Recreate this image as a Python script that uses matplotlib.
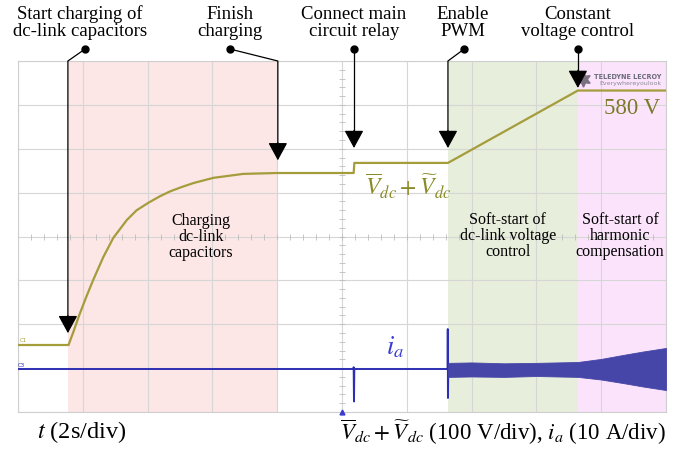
import numpy as np
import matplotlib
matplotlib.use("Agg")
import matplotlib.pyplot as plt

plt.rcParams["font.family"] = ["Liberation Serif", "DejaVu Serif"]
plt.rcParams["mathtext.fontset"] = "stix"

# ---- waveform data (time in s, dc-link voltage in V, phase current in A) ----
t_v = [0.0, 1.56, 1.71, 1.91, 2.12, 2.32, 2.63, 2.94, 3.36, 3.66, 4.02, 4.38,
       4.69, 5.05, 5.41, 5.72, 6.03, 6.44, 6.95, 7.47, 7.98, 10.36, 10.38,
       13.27, 17.28, 20.0]
v_dc = [0, 0, 30, 72, 112, 148, 200, 244, 285, 307, 324, 339,
        350, 360, 369, 375, 381, 385, 390, 391, 392, 392, 415,
        415, 580, 580]

t_i = [0.0, 10.355, 10.36, 10.37, 10.38, 13.26, 13.265, 13.27, 13.28]
i_a = [0.0, 0.0, 0.4, -7.4, 0.0, 0.0, 9.1, -6.6, 0.0]

# current ripple envelope once PWM is running
t_env = [13.28, 14.0, 15.0, 16.0, 17.28, 18.0, 18.67, 19.3, 20.0]
i_up = [1.4, 1.5, 1.3, 1.4, 1.6, 2.3, 3.2, 4.0, 4.8]
i_lo = [-1.8, -1.7, -1.8, -1.6, -1.8, -2.4, -3.2, -4.0, -4.8]

# operating phases (start, end) in s
ph_charge = (1.54, 8.02)
ph_dc_ctrl = (13.27, 17.28)
ph_harm = (17.28, 20.0)

# event annotations: text, text x, dot x, corner x, arrow-tip voltage
events = [
    ("Start charging of\ndc-link capacitors", 1.91, 2.07, 1.54, 27),
    ("Finish\ncharging", 6.54, 6.54, 8.02, 421),
    ("Connect main\ncircuit relay", 10.37, 10.37, 10.37, 449),
    ("Enable\nPWM", 13.73, 13.77, 13.27, 449),
    ("Constant\nvoltage control", 17.28, 17.28, 17.28, 586),
]

V_LIM = (-152.7, 647.3)
I_LIM = (-9.8, 70.2)

fig = plt.figure(figsize=(6.84, 4.49), dpi=100)
ax = fig.add_axes([18 / 684, 37 / 449, 648 / 684, 351 / 449])
ax.set_xlim(0, 20)
ax.set_ylim(*V_LIM)

c_volt = "#a59c3c"
c_cur = "#2e2eb4"

ax.axvspan(*ph_charge, color="#fde6e6", zorder=0, lw=0)
ax.axvspan(*ph_dc_ctrl, color="#e7eedb", zorder=0, lw=0)
ax.axvspan(*ph_harm, color="#fbe4fb", zorder=0, lw=0)

# scope graticule
for x in np.arange(0, 20.01, 2):
    ax.axvline(x, color="#d6d6d6", lw=0.8, zorder=1)
for y in np.linspace(V_LIM[0], V_LIM[1], 9):
    ax.axhline(y, color="#d6d6d6", lw=0.8, zorder=1)
ymid = (V_LIM[0] + V_LIM[1]) / 2
minor_x = np.arange(0, 20.01, 0.4)
minor_y = np.linspace(V_LIM[0], V_LIM[1], 41)
ax.plot(minor_x, np.full_like(minor_x, ymid), ls="none", marker="|",
        ms=4, mew=0.6, color="#bdbdbd", zorder=1)
ax.plot(np.full_like(minor_y, 10.0), minor_y, ls="none", marker="_",
        ms=4, mew=0.6, color="#bdbdbd", zorder=1)
for sp in ax.spines.values():
    sp.set_color("#cfcfcf")
    sp.set_linewidth(0.8)
ax.set_xticks([])
ax.set_yticks([])

ax.plot(t_v, v_dc, color=c_volt, lw=1.6, zorder=4, solid_joinstyle="round")

axi = ax.twinx()
axi.set_ylim(*I_LIM)
axi.set_yticks([])
axi.axis("off")
axi.plot(t_i, i_a, color=c_cur, lw=1.4, zorder=4)
axi.fill_between(t_env, i_lo, i_up, color="#4646a8", lw=0.6, zorder=4)

# channel markers
ax.text(0.05, 5, "C1", fontsize=4, color=c_volt, ha="left", va="bottom",
        family="DejaVu Sans")
axi.text(0.0, 0.2, "C3", fontsize=4, color=c_cur, ha="left", va="bottom",
         family="DejaVu Sans")
ax.plot([10.0], [V_LIM[0]], marker="^", ms=3.5, color="#3a3ad0",
        clip_on=False, zorder=6)

# instrument badge
ax.plot([17.45], [607], marker=(6, 1, 0), ms=11, color="#7a7080", zorder=5)
ax.text(19.85, 611, "TELEDYNE LECROY", ha="right", va="center", fontsize=4.7,
        weight="bold", color="#6a6a78", family="DejaVu Sans", zorder=5)
ax.text(19.85, 595, "Everywhereyoulook", ha="right", va="center",
        fontsize=4.5, color="#8a8a96", family="DejaVu Sans", zorder=5)

# event annotations
y_dot = 674.6
y_txt = 734
for text, xt, xd, xc, ytip in events:
    ax.text(xt, y_txt, text, ha="center", va="center", fontsize=13.5,
            linespacing=1.0, clip_on=False)
    ax.plot([xd, xc, xc], [y_dot, V_LIM[1], ytip + 20], color="black",
            lw=0.9, clip_on=False, zorder=7)
    ax.plot([xd], [y_dot], marker="o", ms=5, color="black", clip_on=False,
            zorder=7)
    ax.annotate("", xy=(xc, ytip), xytext=(xc, ytip + 40),
                arrowprops=dict(arrowstyle="-|>,head_length=1.1,head_width=0.6",
                                color="black", lw=0.9, mutation_scale=10,
                                shrinkA=0, shrinkB=0),
                zorder=8, annotation_clip=False)

# phase labels
ax.text(5.64, 246, "Charging\ndc-link\ncapacitors", ha="center", va="center",
        fontsize=11.5, linespacing=1.0, zorder=5)
ax.text(15.12, 248, "Soft-start of\ndc-link voltage\ncontrol", ha="center",
        va="center", fontsize=11.5, linespacing=1.0, zorder=5)
ax.text(18.58, 248, "Soft-start of\nharmonic\ncompensation", ha="center",
        va="center", fontsize=11.5, linespacing=1.0, zorder=5)

ax.text(18.95, 540, "580 V", ha="center", va="center", fontsize=16.5,
        color="#7a7a2a", zorder=5)
ax.text(12.05, 362, r"$\overline{V}_{dc}+\widetilde{V}_{dc}$", ha="center",
        va="center", fontsize=17, color="#8a8a25", zorder=5)
axi.text(11.64, 5.0, r"$i_a$", ha="center", va="center", fontsize=19,
         color="#3a3ad6", zorder=5)

# axis scale labels
fig.text(37 / 684, 1 - 432 / 449, r"$t$ (2s/div)", ha="left", va="center",
         fontsize=17.5)
fig.text(340 / 684, 1 - 432 / 449,
         r"$\overline{V}_{dc}+\widetilde{V}_{dc}$ (100 V/div), $i_a$ (10 A/div)",
         ha="left", va="center", fontsize=16.5)

fig.savefig("out.png", dpi=100)
